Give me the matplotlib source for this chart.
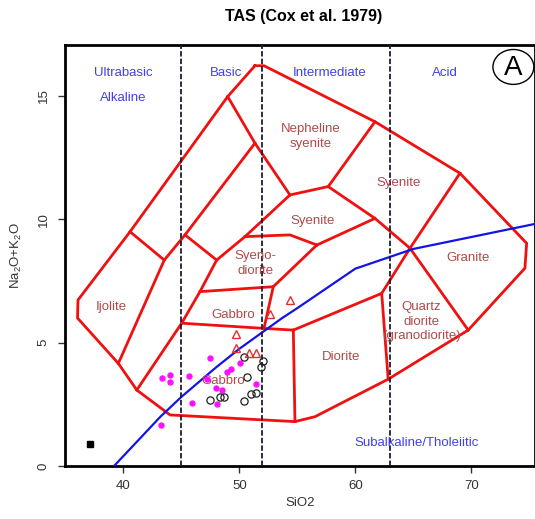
import matplotlib.pyplot as plt
from matplotlib.patches import Ellipse

plt.rcParams['font.family'] = ['Liberation Sans', 'DejaVu Sans']
plt.rcParams['mathtext.default'] = 'regular'

# outer boundary of the plutonic field set
outer_x = [51.35, 52.13, 61.70, 69.03, 74.78, 74.63, 69.74, 62.84, 56.53, 54.80,
           44.03, 41.16, 39.57, 36.05, 36.09, 40.58, 49.00, 51.35]
outer_y = [16.23, 16.23, 13.96, 11.87, 9.03, 8.02, 5.51, 3.52, 2.00, 1.80,
           2.07, 3.08, 4.16, 6.00, 6.73, 9.50, 14.98, 16.23]

# internal field boundaries, each one a polyline (x list, y list)
inner_lines = [
    ([49.00, 51.35, 54.37], [14.98, 13.09, 10.99]),
    ([51.35, 45.32, 43.53, 39.57], [13.09, 9.37, 8.35, 4.16]),
    ([40.58, 43.53], [9.50, 8.35]),
    ([45.32, 48.05], [9.37, 8.35]),
    ([54.37, 50.49, 48.05, 46.61, 45.03, 41.16], [10.99, 9.30, 8.35, 7.07, 5.79, 3.08]),
    ([50.49, 54.37, 56.69], [9.30, 9.37, 8.96]),
    ([54.37, 57.67], [10.99, 11.33]),
    ([61.70, 57.67, 61.70, 64.72, 69.74], [13.96, 11.33, 10.04, 8.83, 5.51]),
    ([56.69, 61.70], [8.96, 10.04]),
    ([46.61, 52.93, 56.69], [7.07, 7.27, 8.96]),
    ([52.93, 52.13], [7.27, 5.58]),
    ([45.03, 52.13, 54.66], [5.79, 5.58, 5.51]),
    ([54.66, 54.80], [5.51, 1.80]),
    ([54.66, 62.28, 62.84], [5.51, 7.00, 3.52]),
    ([62.28, 64.72], [7.00, 8.83]),
    ([64.72, 69.03], [8.83, 11.87]),
]

# Irvine & Baragar (1971) alkaline / subalkaline divide
ib_x = [39.2, 40, 43.2, 45, 48, 50, 53.7, 55, 60, 65, 77.4]
ib_y = [0, 0.4, 2, 2.8, 4, 4.75, 6, 6.4, 8, 8.8, 10]

# silica class limits
silica_limits = [45, 52, 63]

field_names = ['Nepheline\nsyenite', 'Syenite', 'Syenite', 'Syeno-\ndiorite', 'Granite',
               'Ijolite', 'Gabbro', 'Quartz\ndiorite\n(granodiorite)', 'Diorite', 'Gabbro']
field_x = [56.2, 63.7, 56.3, 51.4, 69.7, 39.0, 49.5, 65.7, 58.8, 48.6]
field_y = [13.35, 11.48, 9.95, 8.2, 8.42, 6.46, 6.12, 5.85, 4.43, 3.45]

class_names = ['Ultrabasic', 'Alkaline', 'Basic', 'Intermediate', 'Acid', 'Subalkaline/Tholeiitic']
class_x = [40.0, 40.0, 48.9, 57.8, 67.7, 65.3]
class_y = [15.92, 14.91, 15.92, 15.92, 15.92, 0.92]

# samples
pink_sio2 = [43.31, 44.03, 44.03, 45.66, 47.47, 47.19, 45.95, 48.05, 47.97, 48.48,
             48.97, 49.26, 50.06, 51.41, 43.25]
pink_alk = [3.56, 3.69, 3.42, 3.65, 4.39, 3.53, 2.54, 2.50, 3.18, 3.08,
            3.82, 3.93, 4.19, 3.31, 1.66]

open_sio2 = [50.43, 52.02, 51.87, 50.69, 47.47, 48.34, 48.71, 50.43, 50.98, 51.44]
open_alk = [4.43, 4.26, 4.00, 3.62, 2.68, 2.81, 2.81, 2.64, 2.91, 2.95]

tri_sio2 = [54.37, 52.65, 49.72, 49.72, 50.86, 51.44]
tri_alk = [6.73, 6.16, 5.35, 4.80, 4.57, 4.57]

sq_sio2 = [37.1]
sq_alk = [0.9]

fig = plt.figure(figsize=(5.35, 5.19), dpi=100)
ax = fig.add_axes([65 / 535, 53 / 519, 470 / 535, 420.5 / 519])
ax.set_xlim(34.97, 75.5)
ax.set_ylim(0, 17.05)

red = '#f01010'
ax.plot(outer_x, outer_y, color=red, lw=2.0, solid_joinstyle='miter', zorder=2)
for lx, ly in inner_lines:
    ax.plot(lx, ly, color=red, lw=2.0, solid_joinstyle='miter', zorder=2)

ax.plot(ib_x, ib_y, color='#1414e6', lw=1.6, zorder=3)

for sx in silica_limits:
    ax.axvline(sx, color='#1c1c30', lw=1.3, ls=(0, (3, 1.2)), zorder=4)

for name, tx, ty in zip(field_names, field_x, field_y):
    ax.text(tx, ty, name, color='#b04a4a', fontsize=9.5, ha='center', va='center',
            linespacing=1.3, zorder=5)

for name, tx, ty in zip(class_names, class_x, class_y):
    ax.text(tx, ty, name, color='#4040ee', fontsize=9.5, ha='center', va='center', zorder=5)

ax.plot(pink_sio2, pink_alk, 'o', color='#ff10ff', ms=4.6, mec='none', zorder=6)
ax.plot(open_sio2, open_alk, 'o', mfc='none', mec='#202020', ms=5.2, mew=0.9, zorder=6)
ax.plot(tri_sio2, tri_alk, '^', mfc='none', mec='#e03030', ms=6.0, mew=1.0, zorder=6)
ax.plot(sq_sio2, sq_alk, 's', color='black', ms=4.0, zorder=6)

# panel letter
ax.add_patch(Ellipse((0.954, 0.949), 0.087, 0.083, transform=ax.transAxes,
                     fill=False, ec='black', lw=1.0, clip_on=False, zorder=7))
ax.text(0.954, 0.947, 'A', transform=ax.transAxes, fontsize=20, ha='center',
        va='center', zorder=7)

for side in ax.spines.values():
    side.set_linewidth(2.0)
ax.set_xticks([40, 50, 60, 70])
ax.set_yticks([0, 5, 10, 15])
ax.tick_params(direction='out', length=5, width=1, colors='#333333', labelsize=9.5, pad=5)
ax.tick_params(axis='y', labelrotation=90, pad=6)
for lab in ax.get_yticklabels():
    lab.set_va('center')

ax.set_xlabel('SiO2', fontsize=9.5, color='#333333', labelpad=4)
ax.set_ylabel(r'Na$_2$O+K$_2$O', fontsize=9.5, color='#333333', labelpad=10)
fig.text(0.567, 1 - 17 / 519, 'TAS (Cox et al. 1979)', fontsize=11.5, fontweight='bold',
         ha='center', va='center')

fig.savefig('out.png', dpi=100)
